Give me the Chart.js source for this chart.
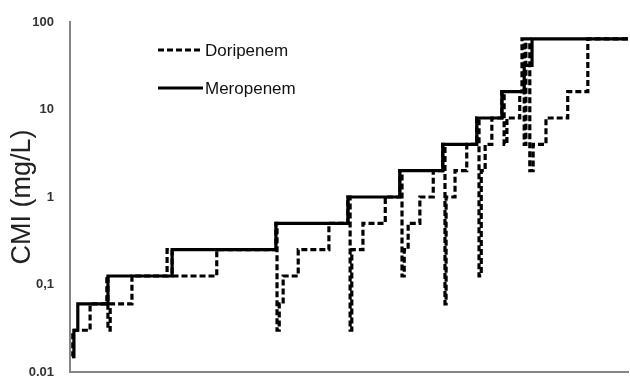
<!DOCTYPE html>
<html>
<head>
<meta charset="utf-8">
<script src="https://cdn.jsdelivr.net/npm/chart.js@4.4.1/dist/chart.umd.min.js"></script>
<style>
  body { margin: 0; background: #fff; }
  #wrap { width: 630px; height: 378px; }
</style>
</head>
<body>
<div id="wrap"><canvas id="chart"></canvas></div>
<script>
// x: position along the (unlabelled) horizontal axis, 0-100
// y: CMI in mg/L, value taken at each step
const meroX = [0.4, 0.7, 1.4, 6.8, 18.3, 36.9, 49.8, 59.1, 66.8, 72.9, 77.4, 81.4, 82.8, 100];
const meroMIC = [0.015, 0.03, 0.06, 0.125, 0.25, 0.5, 1, 2, 4, 8, 16, 32, 64, 64];

const doriX = [0.4, 0.5, 3.6, 6.6, 6.8, 7.2, 11.1, 17.4, 18.3, 26.3,
    36.9, 37.1, 37.5, 38.2, 40.9, 46.4, 49.8, 50.2, 50.5, 52.5,
    56.5, 59.1, 59.5, 59.9, 60.6, 62.7, 65.1, 66.8, 67.2, 67.4,
    69.0, 71.1, 72.9, 73.3, 73.7, 74.4, 75.6, 77.4, 77.8, 78.3,
    80.6, 81.0, 81.4, 81.7, 82.4, 83.0, 85.3, 89.2, 92.8, 100];
const doriMIC = [0.015, 0.03, 0.06, 0.125, 0.03, 0.06, 0.125, 0.25, 0.125, 0.25,
    0.5, 0.03, 0.06, 0.125, 0.25, 0.5, 1, 0.03, 0.25, 0.5,
    1, 2, 0.125, 0.25, 0.5, 1, 2, 4, 0.06, 1,
    2, 4, 8, 0.125, 2, 4, 8, 16, 4, 8,
    16, 64, 4, 64, 2, 4, 8, 16, 64, 64];

const yTicks = [0.01, 0.1, 1, 10, 100];
const yTickLabels = ["0.01", "0,1", "1", "10", "100"];

function toPoints(xs, ys) {
    return xs.map((x, i) => ({ x: x, y: ys[i] }));
}

// legend drawn inside the plot, top left
const insideLegend = {
    id: "insideLegend",
    afterDraw(chart) {
        const ctx = chart.ctx;
        const rows = [50, 88];
        ctx.save();
        chart.data.datasets.forEach((ds, i) => {
            const y = rows[i];
            ctx.beginPath();
            ctx.setLineDash(ds.borderDash || []);
            ctx.lineWidth = 3;
            ctx.strokeStyle = ds.borderColor;
            ctx.moveTo(158, y);
            ctx.lineTo(203, y);
            ctx.stroke();
            ctx.setLineDash([]);
            ctx.fillStyle = "#111";
            ctx.font = "17px 'Liberation Sans', Arial, sans-serif";
            ctx.textBaseline = "middle";
            ctx.textAlign = "left";
            ctx.fillText(ds.label, 205, y + 1);
        });
        ctx.restore();
    }
};

const ctx = document.getElementById("chart").getContext("2d");
const chart = new Chart(ctx, {
    type: "line",
    data: {
        datasets: [
            {
                label: "Doripenem",
                data: toPoints(doriX, doriMIC),
                stepped: true,
                borderColor: "#000",
                borderWidth: 3.2,
                borderDash: [6, 3],
                pointRadius: 0,
                fill: false
            },
            {
                label: "Meropenem",
                data: toPoints(meroX, meroMIC),
                stepped: true,
                borderColor: "#000",
                borderWidth: 3.2,
                pointRadius: 0,
                fill: false
            }
        ]
    },
    options: {
        responsive: true,
        maintainAspectRatio: false,
        animation: false,
        layout: { padding: { top: 22, right: 2, bottom: 6, left: 0 } },
        plugins: {
            legend: { display: false },
            tooltip: { enabled: false }
        },
        scales: {
            x: {
                type: "linear",
                min: 0,
                max: 100,
                afterFit: (scale) => { scale.height = 0; },
                ticks: { display: false },
                grid: { display: false, drawTicks: false },
                border: { display: true, color: "#858585", width: 2 }
            },
            y: {
                type: "logarithmic",
                min: 0.01,
                max: 100,
                afterBuildTicks: (scale) => {
                    scale.ticks = yTicks.map(v => ({ value: v }));
                },
                afterFit: (scale) => {
                    scale.width = 70;
                    scale.paddingTop = 0;
                    scale.paddingBottom = 0;
                },
                ticks: {
                    padding: 16,
                    color: "#333",
                    font: { family: "'Liberation Sans', Arial, sans-serif", size: 13, weight: "bold" },
                    callback: (value) => {
                        const i = yTicks.indexOf(value);
                        return i >= 0 ? yTickLabels[i] : "";
                    }
                },
                grid: { display: false, drawTicks: false },
                border: { display: true, color: "#858585", width: 2 },
                title: {
                    display: true,
                    text: "CMI (mg/L)",
                    color: "#222",
                    padding: { top: 6, bottom: 0 },
                    font: { family: "'Liberation Sans', Arial, sans-serif", size: 27 }
                }
            }
        }
    },
    plugins: [insideLegend]
});
</script>
</body>
</html>
